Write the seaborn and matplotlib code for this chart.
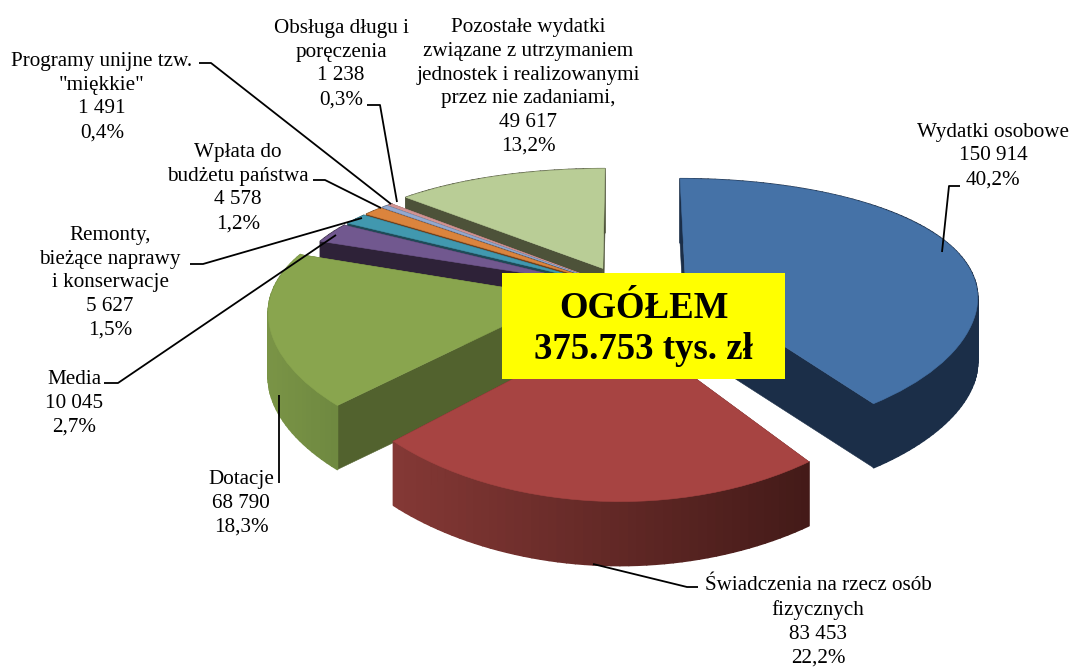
import numpy as np
import matplotlib
matplotlib.use("Agg")
import matplotlib.pyplot as plt
import matplotlib.transforms as mtransforms
from matplotlib.collections import PolyCollection
from matplotlib.colors import to_rgb
import seaborn as sns

# ---- data ----
categories = ["Wydatki osobowe", "Świadczenia na rzecz osób\nfizycznych", "Dotacje", "Media",
              "Remonty,\nbieżące naprawy\ni konserwacje", "Wpłata do\nbudżetu państwa",
              "Programy unijne tzw.\n\"miękkie\"", "Obsługa długu i\nporęczenia",
              "Pozostałe wydatki\nzwiązane z utrzymaniem\njednostek i realizowanymi\nprzez nie zadaniami,"]
values = [150914, 83453, 68790, 10045, 5627, 4578, 1491, 1238, 49617]
value_labels = ["150 914", "83 453", "68 790", "10 045", "5 627", "4 578", "1 491", "1 238", "49 617"]
pct_labels = ["40,2%", "22,2%", "18,3%", "2,7%", "1,5%", "1,2%", "0,4%", "0,3%", "13,2%"]
explode = [0.215, 0.24, 0.217, 0.17, 0.17, 0.17, 0.17, 0.17, 0.20]
top_colors = ["#4572A7", "#A74442", "#89A54E", "#71588F", "#4198AF", "#DB843D", "#93A9CF", "#D19392", "#B9CD96"]
face_colors = ["#1B2E48", "#5A2523", "#52622E", "#2E2238", "#1E4A57", "#6F401B", "#47546B", "#6B4A49", "#4D5239"]
wall_left = ["#1B2E48", "#843835", "#7A9446", "#2E2238", "#1E4A57", "#6F401B", "#47546B", "#6B4A49", "#4D5239"]
wall_right = ["#1B2E48", "#431A18", "#6E8840", "#2E2238", "#1E4A57", "#6F401B", "#47546B", "#6B4A49", "#4D5239"]
draw_order = [8, 7, 6, 5, 4, 3, 0, 2, 1]
total_label = "OGÓŁEM\n375.753 tys. zł"

# ---- projection of the tilted pie onto pixels ----
CX, CY, RX, RY, PX, PY = 626.0, 291.0, 292.0, 127.8, 0.10, 0.20
DEPTH = 64.0


def project(x, y, z=0.0):
    x, y = np.asarray(x, float), np.asarray(y, float)
    return CX + RX * x / (1 + PX * y), CY - RY * y / (1 + PY * y) + z * DEPTH


class Tilt(mtransforms.Transform):
    input_dims = output_dims = 2
    is_separable = False

    def transform_non_affine(self, values):
        v = np.asarray(values, float)
        return np.column_stack(project(v[:, 0], v[:, 1]))


sns.set_theme(style="white")
plt.rcParams["font.family"] = ["Liberation Serif", "DejaVu Serif"]
fig = plt.figure(figsize=(10.72, 6.68), dpi=100, facecolor="white")
ax = fig.add_axes([0, 0, 1, 1])
palette = sns.color_palette(top_colors)
wedges, _ = ax.pie(values, explode=explode, colors=palette, startangle=90, counterclock=False,
                   radius=1, wedgeprops={"linewidth": 0.4})
ax.set_aspect("auto")
ax.set_xlim(0, 1072)
ax.set_ylim(668, 0)
ax.axis("off")

tilt = Tilt() + ax.transData
z = 10
for i in draw_order:
    wd = wedges[i]
    cx0, cy0 = wd.center
    t1, t2 = np.radians(wd.theta1), np.radians(wd.theta2)
    # straight cut faces
    for t in (t1, t2):
        xs = np.array([cx0, cx0 + np.cos(t)])
        ys = np.array([cy0, cy0 + np.sin(t)])
        xa, ya = project(xs, ys, 0)
        xb, yb = project(xs, ys, 1)
        ax.fill([xa[0], xa[1], xb[1], xb[0]], [ya[0], ya[1], yb[1], yb[0]],
                color=face_colors[i], lw=0.4, zorder=z)
    # curved outer wall, shaded left to right
    ts = np.linspace(t1, t2, max(3, int(np.degrees(t2 - t1) / 1.5)))
    ax_x, ax_y = cx0 + np.cos(ts), cy0 + np.sin(ts)
    xa, ya = project(ax_x, ax_y, 0)
    xb, yb = project(ax_x, ax_y, 1)
    polys, cols = [], []
    lo, hi = np.array(to_rgb(wall_left[i])), np.array(to_rgb(wall_right[i]))
    for k in range(len(ts) - 1):
        polys.append([(xa[k], ya[k]), (xa[k + 1], ya[k + 1]), (xb[k + 1], yb[k + 1]), (xb[k], yb[k])])
        f = (xa[k] - xa.min()) / max(xa.max() - xa.min(), 1)
        cols.append(lo + (hi - lo) * f)
    ax.add_collection(PolyCollection(polys, facecolors=cols, edgecolors=cols, linewidths=1.2, zorder=z + 1))
    wd.set_transform(tilt)
    wd.set_edgecolor(top_colors[i])
    wd.set_zorder(z + 2)
    z += 3

# ---- leader lines (pixel layout) ----
leaders = [
    [(960, 186), (949, 186), (942, 252)],
    [(593, 564), (687, 587), (698, 587)],
    [(279, 395), (279, 483)],
    [(104, 383), (118, 383), (336, 235)],
    [(190, 264), (203, 264), (362, 218)],
    [(313, 180), (325, 180), (381, 208)],
    [(199, 63), (211, 63), (391, 204)],
    [(367, 105), (380, 105), (397, 202)],
]
for pts in leaders:
    px, py = zip(*pts)
    ax.plot(px, py, color="black", lw=1.3, zorder=60, solid_capstyle="butt")

# ---- labels (pixel layout) ----
label_pos = [(993, 156), (818, 622), (241, 503), (74, 403), (110, 283), (238, 188), (102, 97), (341, 64), (528, 87)]
for name, val, pct, (lx, ly) in zip(categories, value_labels, pct_labels, label_pos):
    ax.text(lx, ly, f"{name}\n{val}\n{pct}", ha="center", va="center", fontsize=15.2,
            color="black", linespacing=1.34, zorder=70)

ax.text(643.5, 329, total_label, ha="center", va="center", fontsize=26.5, fontweight="bold", color="black",
        linespacing=1.22, zorder=80)
ax.add_patch(plt.Rectangle((502, 273), 283, 106, facecolor="#FFFF00", edgecolor="none", zorder=75))

fig.savefig("out.png", dpi=100, facecolor="white")
